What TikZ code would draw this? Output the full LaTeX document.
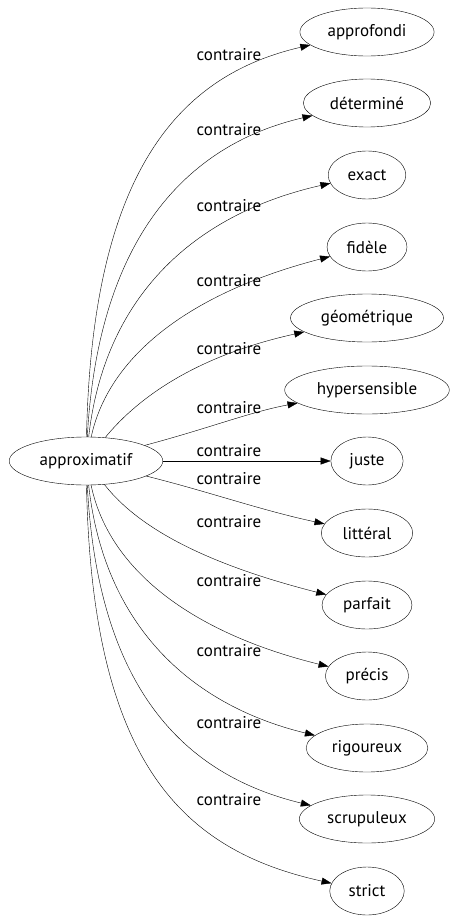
\documentclass[tikz,border=0pt]{standalone}
\usepackage{fontspec}
\setmainfont{PT Sans}
\usetikzlibrary{shapes.geometric,arrows.meta}

\tikzset{
  word/.style={draw, ellipse, inner xsep=8pt, inner ysep=0pt, minimum height=48pt, font=\fontsize{17}{19}\selectfont},
  link/.style={-{Triangle[length=10pt,width=7pt]}},
  lbl/.style={font=\fontsize{17}{19}\selectfont, inner sep=0pt}
}

\begin{document}
\begin{tikzpicture}[x=1pt, y=-1pt]
\useasboundingbox (0,0) rectangle (458,923);

% Define boxes
\node[word] (approximatif) at (86, 461) {approximatif};
\node[word] (approfondi) at (367, 32) {approfondi};
\node[word] (determine) at (367, 103) {déterminé};
\node[word] (exact) at (367, 175) {exact};
\node[word] (fidele) at (367, 247) {fidèle};
\node[word] (geometrique) at (367, 318) {géométrique};
\node[word] (hypersensible) at (367, 390) {hypersensible};
\node[word] (juste) at (367, 461) {juste};
\node[word] (litteral) at (367, 533) {littéral};
\node[word] (parfait) at (367, 605) {parfait};
\node[word] (precis) at (367, 676) {précis};
\node[word] (rigoureux) at (367, 748) {rigoureux};
\node[word] (scrupuleux) at (367, 819) {scrupuleux};
\node[word] (strict) at (367, 891) {strict};

% Draw arrows
\draw[link] (approximatif) .. controls (92,170) and (180,75) .. (approfondi);
\draw[link] (approximatif) .. controls (98,240) and (185,145) .. (determine);
\draw[link] (approximatif) .. controls (104,300) and (190,215) .. (exact);
\draw[link] (approximatif) .. controls (110,350) and (200,290) .. (fidele);
\draw[link] (approximatif) .. controls (140,395) and (200,355) .. (geometrique);
\draw[link] (approximatif) .. controls (210,428) and (250,412) .. (hypersensible);
\draw[link] (approximatif) -- (juste);
\draw[link] (approximatif) .. controls (210,492) and (260,510) .. (litteral);
\draw[link] (approximatif) .. controls (140,530) and (210,565) .. (parfait);
\draw[link] (approximatif) .. controls (110,575) and (200,635) .. (precis);
\draw[link] (approximatif) .. controls (104,625) and (190,705) .. (rigoureux);
\draw[link] (approximatif) .. controls (98,690) and (185,775) .. (scrupuleux);
\draw[link] (approximatif) .. controls (92,760) and (180,850) .. (strict);

% Edge labels
\node[lbl] (c1) at (229, 55) {contraire};
\node[lbl] (c2) at (229, 130) {contraire};
\node[lbl] (c3) at (229, 206) {contraire};
\node[lbl] (c4) at (229, 281) {contraire};
\node[lbl] (c5) at (229, 349) {contraire};
\node[lbl] (c6) at (229, 408) {contraire};
\node[lbl] (c7) at (229, 451) {contraire};
\node[lbl] (c8) at (229, 479) {contraire};
\node[lbl] (c9) at (229, 522) {contraire};
\node[lbl] (c10) at (229, 581) {contraire};
\node[lbl] (c11) at (229, 651) {contraire};
\node[lbl] (c12) at (229, 723) {contraire};
\node[lbl] (c13) at (229, 800) {contraire};

\end{tikzpicture}
\end{document}
